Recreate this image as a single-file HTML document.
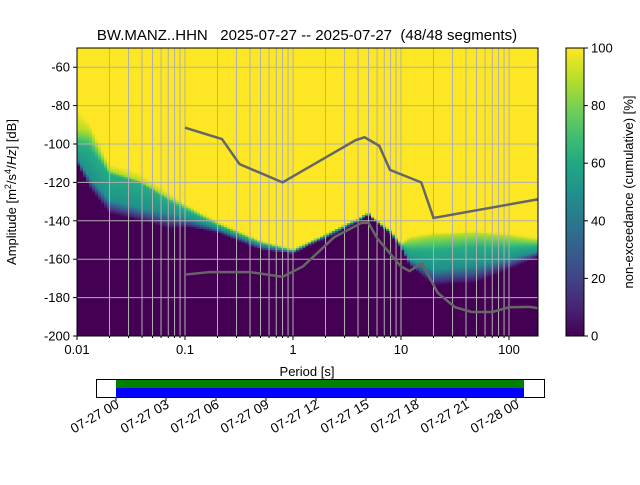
<!DOCTYPE html>
<html><head><meta charset="utf-8"><style>
body{margin:0;background:#fff;font-family:"Liberation Sans","DejaVu Sans",sans-serif}
svg text{font-family:"Liberation Sans","DejaVu Sans",sans-serif;fill:#000}
</style></head><body>
<svg id="c" width="640" height="480" xmlns="http://www.w3.org/2000/svg">
<defs>
<linearGradient id="vir" x1="0" y1="1" x2="0" y2="0">
<stop offset="0" stop-color="#440154"/><stop offset="0.1" stop-color="#482475"/><stop offset="0.2" stop-color="#414487"/><stop offset="0.3" stop-color="#355f8d"/><stop offset="0.4" stop-color="#2a788e"/><stop offset="0.5" stop-color="#21918c"/><stop offset="0.6" stop-color="#22a884"/><stop offset="0.7" stop-color="#44bf70"/><stop offset="0.8" stop-color="#7ad151"/><stop offset="0.9" stop-color="#bddf26"/><stop offset="1" stop-color="#fde725"/>
</linearGradient>
<clipPath id="pc"><rect x="77" y="48" width="461" height="288"/></clipPath>
</defs>
<text x="307" y="40" text-anchor="middle" font-size="15" xml:space="preserve" style="white-space:pre">BW.MANZ..HHN   2025-07-27 -- 2025-07-27  (48/48 segments)</text>
<g id="plot" clip-path="url(#pc)">
<rect x="77" y="48" width="461" height="288" fill="#440154"/>
<g id="cells"></g>
<g id="grid"></g>
<g id="models"></g>
</g>
<rect x="77" y="48" width="461" height="288" fill="none" stroke="#000" stroke-width="1"/>
<g id="axes"></g>
<text x="307" y="376" text-anchor="middle" font-size="13">Period [s]</text>
<text transform="translate(16,192) rotate(-90)" text-anchor="middle" font-size="13">Amplitude [m<tspan font-size="9" dy="-5">2</tspan><tspan dy="5">/s</tspan><tspan font-size="9" dy="-5">4</tspan><tspan dy="5">/</tspan><tspan font-style="italic">Hz</tspan>] [dB]</text>
<rect x="566" y="48" width="18" height="288" fill="url(#vir)" stroke="#000" stroke-width="1"/>
<g id="cbar"></g>
<text transform="translate(633,192) rotate(-90)" text-anchor="middle" font-size="13">non-exceedance (cumulative) [%]</text>
<rect x="96.5" y="379.5" width="448" height="18" fill="#fff" stroke="#000"/>
<rect x="116" y="380" width="408" height="8" fill="#008000"/>
<rect x="116" y="388" width="408" height="9" fill="#0000ff"/>
<g id="tl"></g>
</svg>
<script>
const NS="http://www.w3.org/2000/svg";
const periods=[0.01,0.013,0.02,0.038,0.073,0.1,0.2,0.5,1,1.5,2,3,4,5,6,8,10,12,20,50,100,180];
const a0 =[-110,-122.5,-136,-139.6,-144,-143,-146,-155,-157,-152,-149,-144,-140,-137,-141,-147,-154,-163,-173.5,-172,-165,-159];
const a25=[-109,-120,-133,-137,-140.5,-141,-145,-154,-156.5,-151.5,-148.5,-143.5,-139.7,-136.7,-140.7,-146.5,-153.5,-162,-170,-168,-162.5,-157.5];
const a55=[-107,-117,-129,-133,-136,-138,-143.5,-152.5,-156,-151,-148,-143,-139.4,-136.4,-140.4,-146,-153,-160,-165,-163,-159.5,-156];
const a75=[-100,-102,-115.5,-120,-130,-134,-142,-151.5,-155.5,-150.7,-147.5,-142.5,-139.1,-136.1,-140.1,-145.5,-152.5,-155,-155,-153.5,-154,-153];
const a90=[-92,-93,-113.6,-118.8,-128,-132,-141,-150.7,-155,-150.3,-147,-142,-138.8,-135.8,-139.8,-145,-152,-149.5,-147.5,-146.5,-148,-150];
const a100=[-81,-89,-110,-114.6,-125.6,-131,-140,-150,-154,-150,-146.5,-141.5,-138.6,-135.6,-139.6,-144,-151,-148,-146,-145,-146.5,-148.5];
const levels=[0,20,50,62,88,100];
const nhnmP=[0.1,0.22,0.32,0.8,3.8,4.6,6.3,7.9,15.4,20,354];
const nhnmA=[-91.5,-97.4,-110.5,-120,-98,-96.5,-101,-113.5,-120,-138.5,-126];
const nlnmP=[0.1,0.17,0.4,0.8,1.24,2.4,4.3,5,6,10,12,15.6,21.9,31.6,45,70,101,154,328];
const nlnmA=[-168,-166.7,-166.7,-169.2,-163.7,-148.6,-141.1,-141.1,-149,-163.8,-166.2,-162.1,-177.5,-185,-187.5,-187.5,-185,-184.8,-187.5];
const xTicks=[0.01,0.1,1,10,100];
const xTickLabels=["0.01","0.1","1","10","100"];
const yTicks=[-60,-80,-100,-120,-140,-160,-180,-200];
const cTicks=[0,20,40,60,80,100];
const tlLabels=["07-27 00","07-27 03","07-27 06","07-27 09","07-27 12","07-27 15","07-27 18","07-27 21","07-28 00"];
const X=p=>77+(Math.log10(p)+2)*108;
const Y=a=>336-(a+200)*(288/150);
const vir=["#440154","#482475","#414487","#355f8d","#2a788e","#21918c","#22a884","#44bf70","#7ad151","#bddf26","#fde725"];
function hex(h){return [1,3,5].map(i=>parseInt(h.substr(i,2),16));}
function vc(t){t=Math.max(0,Math.min(1,t));const s=t*10,i=Math.min(9,Math.floor(s)),f=s-i;const a=hex(vir[i]),b=hex(vir[i+1]);return "rgb("+a.map((v,k)=>Math.round(v+(b[k]-v)*f)).join(",")+")";}
function interp(arr,lp){const L=periods.map(Math.log10);if(lp<=L[0])return arr[0];for(let i=1;i<L.length;i++){if(lp<=L[i]){const f=(lp-L[i-1])/(L[i]-L[i-1]);return arr[i-1]+(arr[i]-arr[i-1])*f;}}return arr[arr.length-1];}
function el(tag,attrs,parent){const e=document.createElementNS(NS,tag);for(const k in attrs)e.setAttribute(k,attrs[k]);parent.appendChild(e);return e;}
const cells=document.getElementById('cells');
const step=1/36;
const Q=[a0,a25,a55,a75,a90,a100];
for(let lp=-2;lp<2.3;lp+=step){
  const q=Q.map(a=>interp(a,lp+step/2));
  const x1=X(Math.pow(10,lp)),x2=X(Math.pow(10,lp+step));
  const yr=el('rect',{x:x1,y:48,width:x2-x1+0.6,height:Math.max(0,Y(Math.ceil(q[5]))-48+0.5),fill:"#fde725"},cells);
  
  
  for(let a=Math.floor(q[0]);a<Math.ceil(q[5]);a++){
    const c=a+0.5;let pct=0;
    if(c<=q[0])pct=0;else if(c>=q[5])pct=100;else{for(let i=1;i<6;i++){if(c<=q[i]){pct=levels[i-1]+(levels[i]-levels[i-1])*(c-q[i-1])/Math.max(0.01,q[i]-q[i-1]);break;}}}
    if(pct<2)continue;
    const r=el('rect',{x:x1,y:Y(a+1),width:x2-x1+0.6,height:288/150+0.5,fill:vc(pct/100)},cells);
    
    
  }
}
const grid=document.getElementById('grid');
for(let d=-2;d<3;d++)for(let m=1;m<10;m++){const p=m*Math.pow(10,d);const x=X(p);if(x>538)continue;
  const g=el('line',{x1:x,x2:x,y1:48,y2:336,stroke:"#b0b0b0","stroke-width":1},grid);
  }
yTicks.forEach(a=>{const g=el('line',{x1:77,x2:538,y1:Y(a),y2:Y(a),stroke:"#b0b0b0","stroke-width":1},grid);
  });
const models=document.getElementById('models');
[[nhnmP,nhnmA,'nhnm-line'],[nlnmP,nlnmA,'nlnm-line']].forEach(([P,A,n])=>{
  const pl=el('polyline',{points:P.map((p,i)=>X(p)+","+Y(A[i])).join(" "),fill:"none",stroke:"#666","stroke-width":2.5},models);
  });
const axes=document.getElementById('axes');
xTicks.forEach((p,i)=>{const x=X(p);el('line',{x1:x,x2:x,y1:336,y2:340,stroke:"#000"},axes);
  const t=el('text',{x:x,y:354,"text-anchor":"middle","font-size":13},axes);t.textContent=xTickLabels[i];
  });
for(let d=-2;d<3;d++)for(let m=2;m<10;m++){const x=X(m*Math.pow(10,d));if(x<=538)el('line',{x1:x,x2:x,y1:336,y2:338,stroke:"#000"},axes);}
yTicks.forEach(a=>{const y=Y(a);el('line',{x1:73,x2:77,y1:y,y2:y,stroke:"#000"},axes);
  const t=el('text',{x:70,y:y+4.5,"text-anchor":"end","font-size":13},axes);t.textContent=a;
  });
const cb=document.getElementById('cbar');
cTicks.forEach(v=>{const y=336-v*2.88;el('line',{x1:584,x2:588,y1:y,y2:y,stroke:"#000"},cb);
  const t=el('text',{x:591,y:y+4.5,"font-size":13},cb);t.textContent=v;
  });
const tl=document.getElementById('tl');
tlLabels.forEach((s,i)=>{const x=116+i*50;el('line',{x1:x,x2:x,y1:397,y2:401,stroke:"#000"},tl);
  const t=el('text',{"text-anchor":"end","font-size":13.5,transform:"translate("+(x+4)+",407) rotate(-30)"},tl);t.textContent=s;
  });
</script>
</body></html>
